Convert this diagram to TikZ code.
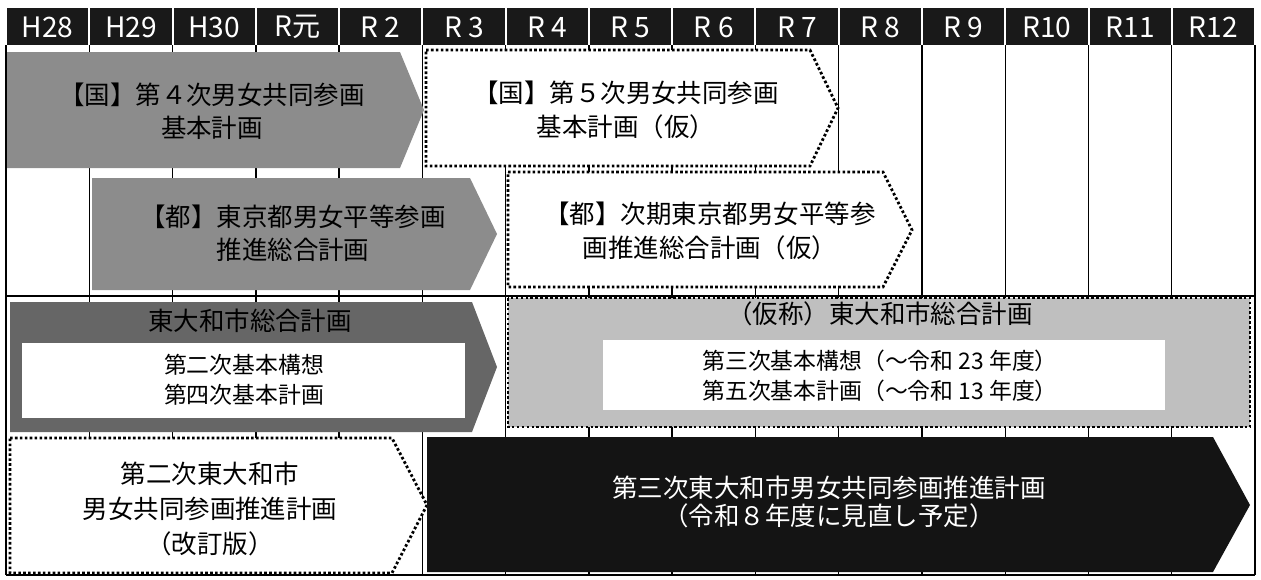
\documentclass[tikz,border=0pt]{standalone}
\usepackage{fontspec}
\setmainfont{Noto Sans CJK JP}
\usepackage{tikz}
\usetikzlibrary{calc}
\tikzset{
  jahr/.style={text=white,inner sep=0pt,font=\fontsize{16}{18}\selectfont},
  gitter/.style={black,line width=0.8pt},
  punkte/.style={black,line width=1.6pt,dash pattern=on 1.5pt off 1.3pt},
  plantext/.style={align=center,inner sep=0pt,font=\fontsize{14.5}{19}\selectfont},
  kleintext/.style={align=center,inner sep=0pt,font=\fontsize{13}{17}\selectfont}
}
\begin{document}
\begin{tikzpicture}[x=0.02cm,y=-0.02cm]
%Ein Pixel der Vorlage = 0.02cm, y nach unten
  \pgfmathsetmacro{\xnull}{6}
  \pgfmathsetmacro{\cw}{83.27}
  \pgfmathsetmacro{\xend}{\xnull+15*\cw}
  \useasboundingbox (0,0) rectangle (1261,579);
%Gitter
\foreach \i in {0,...,15}{
\draw[gitter] (\xnull+\i*\cw,45) -- (\xnull+\i*\cw,575);
}
\draw[gitter] (\xnull,575) -- (\xend,575);
\draw[gitter] (\xnull,296) -- (\xend,296);
%Kopfzeile mit den Jahren
\foreach \lab [count=\i from 0] in {H28,H29,H30,R元,R 2,R 3,R 4,R 5,R 6,R 7,R 8,R 9,R10,R11,R12}{
\fill[black!90] (\xnull+\i*\cw+1,8) rectangle (\xnull+\i*\cw+\cw-1,45);
\node[jahr] (jahr\i) at (\xnull+\i*\cw+\cw/2,27) {\lab};
}
%Zeile 1: Staat
\fill[black!45] (7,52) -- (400,52) -- (424,110) -- (400,168) -- (7,168) -- cycle;
\node[plantext] (kuniVier) at (212,111) {【国】第４次男女共同参画\\基本計画};
\draw[punkte,fill=white] (426,50) -- (810,50) -- (838,108) -- (810,166) -- (426,166) -- cycle;
\node[plantext] (kuniFuenf) at (626,110) {【国】第５次男女共同参画\\基本計画（仮）};
%Zeile 2: Tokyo
\fill[black!45] (92,178) -- (470,178) -- (497,234) -- (470,290) -- (92,290) -- cycle;
\node[plantext] (toJetzt) at (293,233) {【都】東京都男女平等参画\\推進総合計画};
\draw[punkte,fill=white] (508,172) -- (883,172) -- (912,230) -- (883,287) -- (508,287) -- cycle;
\node[plantext] (toNaechst) at (710,231) {【都】次期東京都男女平等参\\画推進総合計画（仮）};
%Zeile 3: Gesamtplan der Stadt
\fill[black!60] (10,302) -- (472,302) -- (497,367) -- (472,432) -- (10,432) -- cycle;
\fill[white] (22,343) rectangle (465,418);
\node[plantext] (sogo) at (250,321) {東大和市総合計画};
\node[kleintext] (sogoInnen) at (244,380) {第二次基本構想\\第四次基本計画};
\draw[punkte,fill=black!25] (508,298) rectangle (1250,427);
\fill[white] (603,340) rectangle (1165,410);
\node[plantext] (sogoNeu) at (880,314) {（仮称）東大和市総合計画};
\node[kleintext] (sogoNeuInnen) at (880,376) {第三次基本構想（～令和 23 年度）\\第五次基本計画（～令和 13 年度）};
%Zeile 4: Plan der Stadt
\draw[punkte,fill=white] (10,438) -- (392,438) -- (427,505) -- (392,573) -- (10,573) -- cycle;
\node[plantext,font=\fontsize{14.5}{19.8}\selectfont] (kaitei) at (210,509) {第二次東大和市\\男女共同参画推進計画\\（改訂版）};
\fill[black!92] (427,437) -- (1213,437) -- (1250,505) -- (1213,572) -- (427,572) -- cycle;
\node[plantext,text=white,font=\fontsize{14.5}{16}\selectfont] (daiSan) at (829,502) {第三次東大和市男女共同参画推進計画\\（令和８年度に見直し予定）};
\end{tikzpicture}
\end{document}
